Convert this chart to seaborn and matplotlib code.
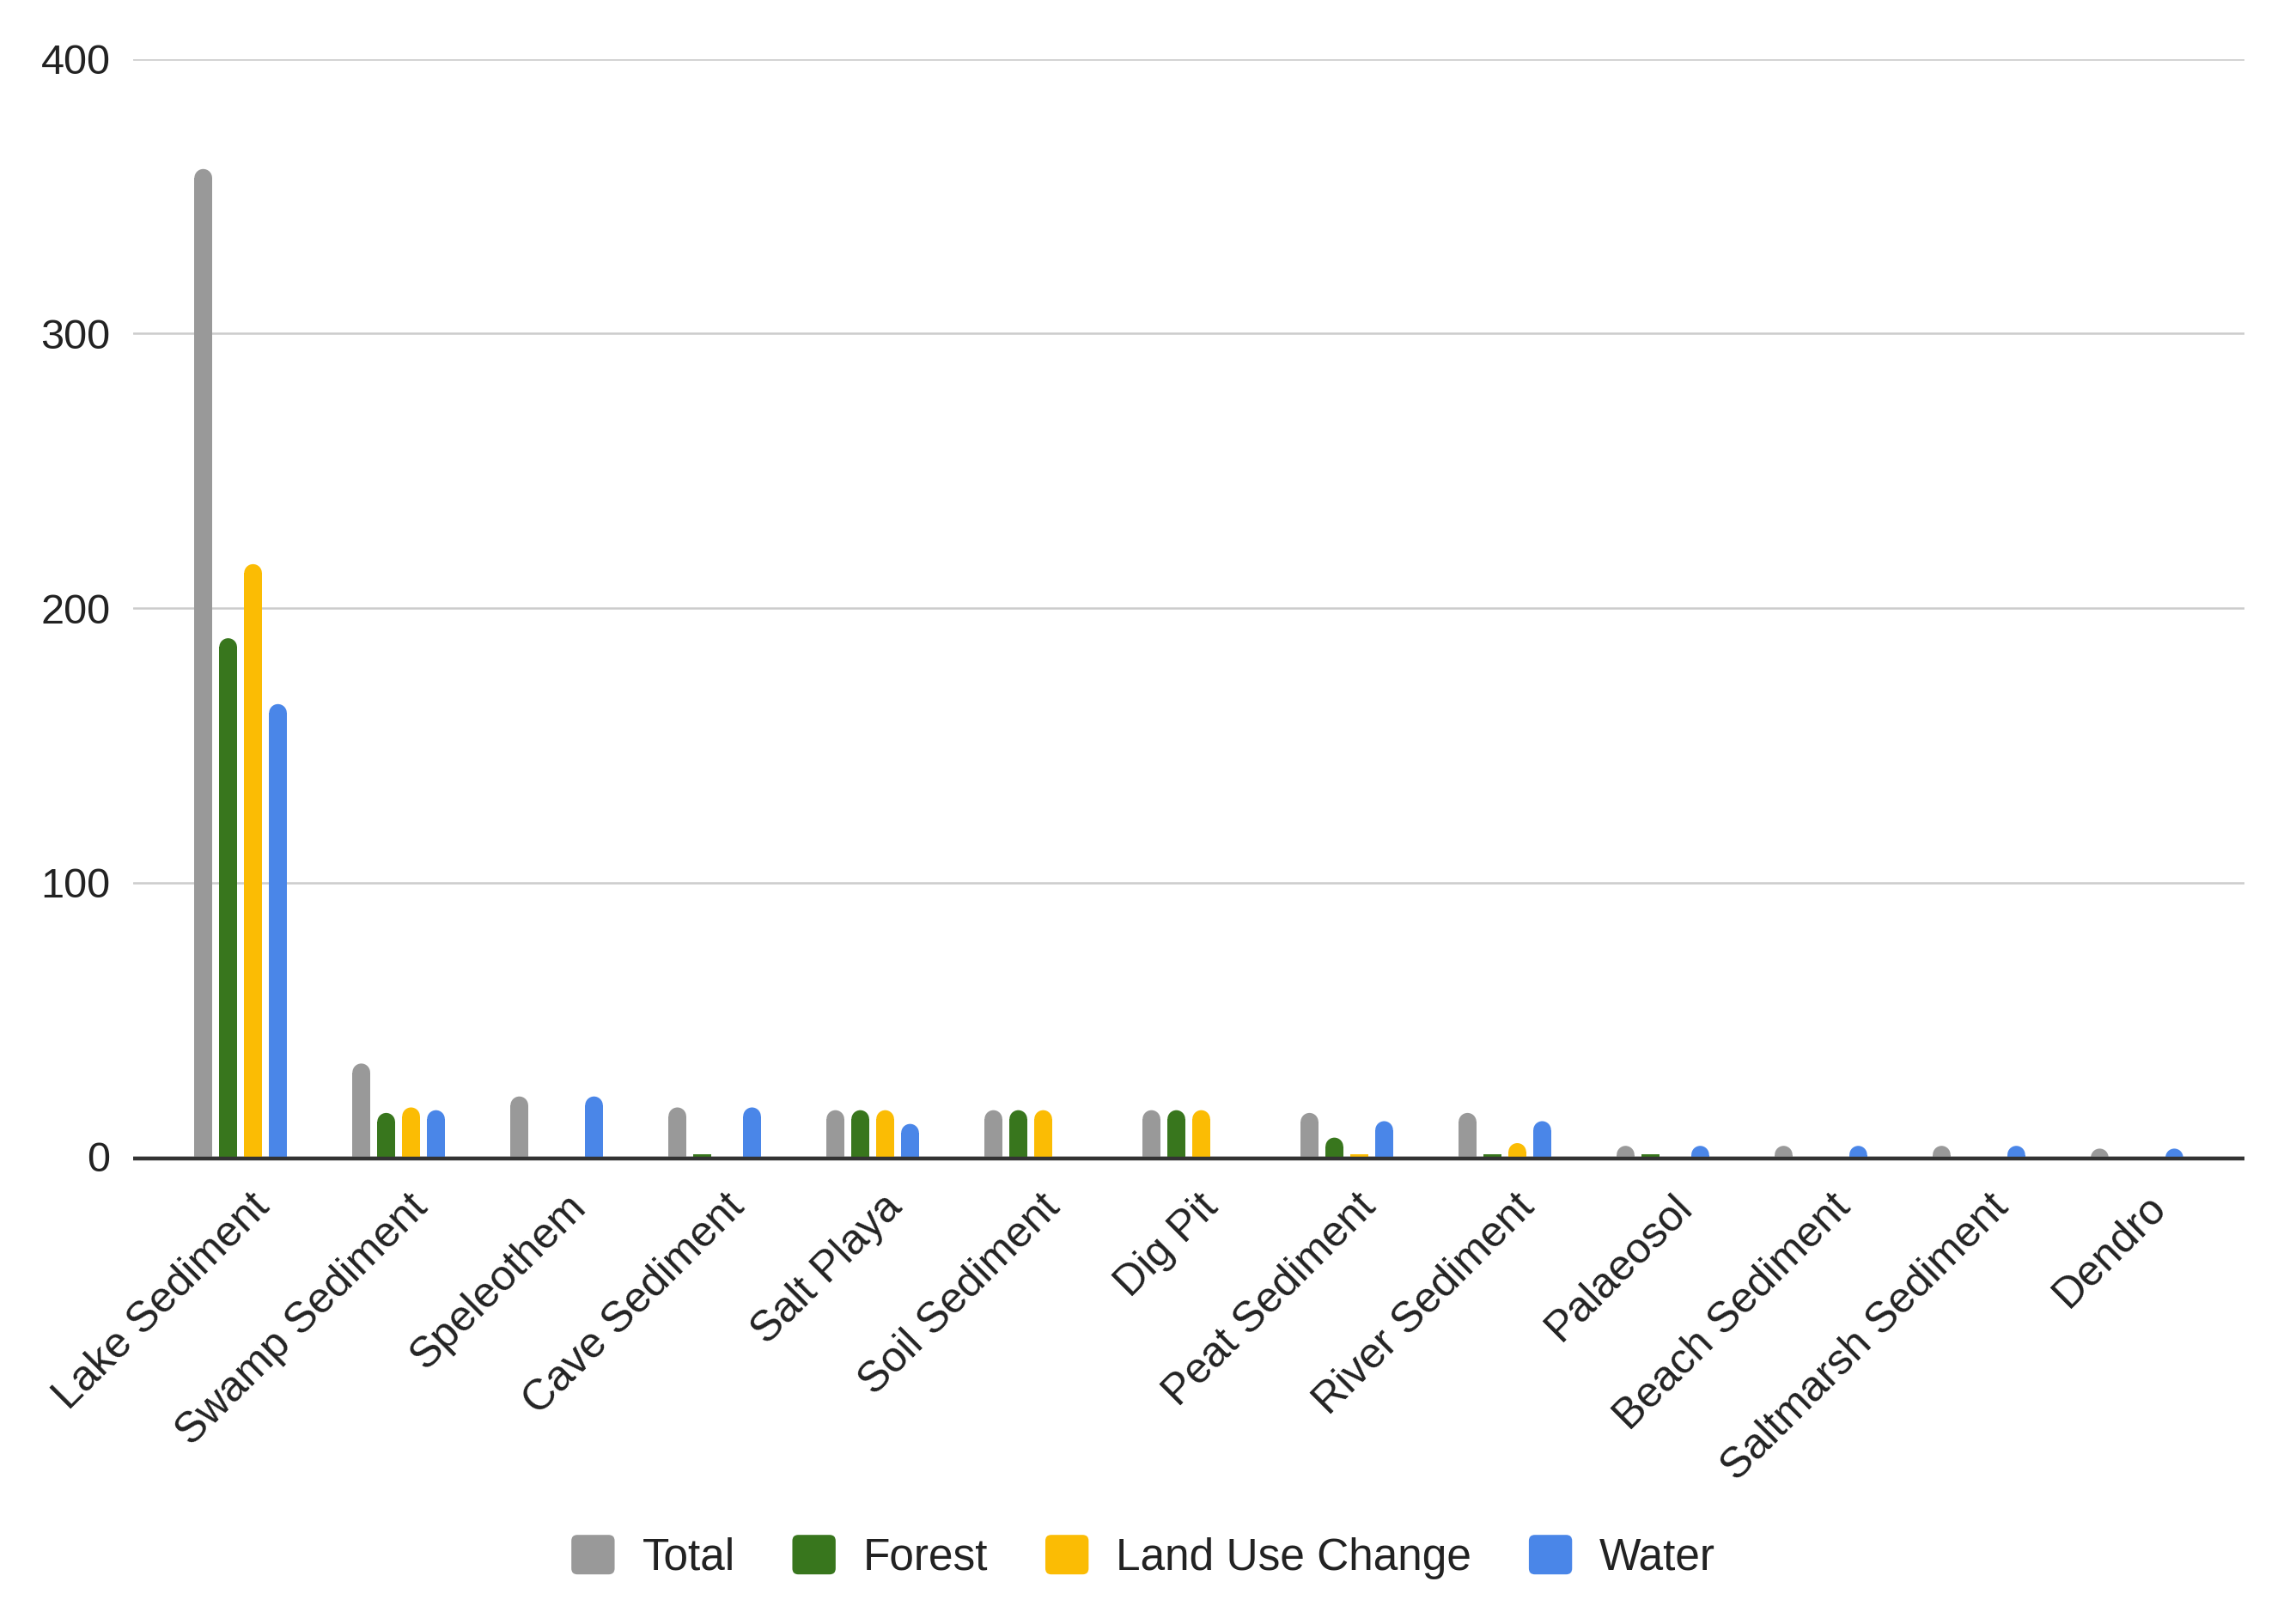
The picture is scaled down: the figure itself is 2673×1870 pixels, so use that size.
import matplotlib
matplotlib.use("Agg")
import pandas as pd
import matplotlib.pyplot as plt
import seaborn as sns
from matplotlib.patches import Patch, Ellipse, FancyBboxPatch
from matplotlib.legend_handler import HandlerPatch
from matplotlib.transforms import ScaledTranslation

# data
categories = ["Lake Sediment", "Swamp Sediment", "Speleothem", "Cave Sediment",
              "Salt Playa", "Soil Sediment", "Dig Pit", "Peat Sediment",
              "River Sediment", "Palaeosol", "Beach Sediment",
              "Saltmarsh Sediment", "Dendro"]
series = ["Total", "Forest", "Land Use Change", "Water"]
total = [360, 34, 22, 18, 17, 17, 17, 16, 16, 4, 4, 4, 3]
forest = [189, 16, 0, 1, 17, 17, 17, 7, 1, 1, 0, 0, 0]
land_use = [216, 18, 0, 0, 17, 17, 17, 1, 5, 0, 0, 0, 0]
water = [165, 17, 22, 18, 12, 0, 0, 13, 13, 4, 4, 4, 3]
colors = ["#999999", "#38761d", "#fbbc04", "#4a86e8"]
y_ticks = [0, 100, 200, 300, 400]

df = pd.DataFrame({
    "Proxy": categories * 4,
    "Series": [s for s in series for _ in categories],
    "Count": total + forest + land_use + water,
})

sns.set_theme(style="white")
plt.rcParams["font.family"] = ["Liberation Sans", "DejaVu Sans"]

W, H = 2673, 1870
fig, ax = plt.subplots(figsize=(W / 100, H / 100), dpi=100)
fig.subplots_adjust(left=155 / W, right=2613 / W, top=1 - 69 / H, bottom=1 - 1347 / H)

sns.barplot(data=df, x="Proxy", y="Count", hue="Series", hue_order=series,
            palette=colors, width=0.63, gap=0.29, saturation=1, linewidth=0,
            legend=False, ax=ax, zorder=2)

ax.set_xlim(-0.68, 12.68)
ax.set_ylim(0, 400)
ax.set_yticks(y_ticks)
ax.yaxis.grid(True, color="#cccccc", linewidth=1.8)
ax.set_axisbelow(True)
sns.despine(ax=ax, left=True, bottom=True)
# dark baseline drawn just below zero so small bars stay visible
base_shift = ScaledTranslation(0, -0.022, fig.dpi_scale_trans)
ax.plot([0, 1], [0, 0], color="#333333", linewidth=3.2, zorder=3,
        transform=ax.transAxes + base_shift, clip_on=False, solid_capstyle="butt")
ax.set_xlabel("")
ax.set_ylabel("")

ax.tick_params(axis="y", length=0, pad=19, labelsize=35, labelcolor="#222222")
ax.tick_params(axis="x", length=0, pad=37, labelsize=36, labelcolor="#222222")
ax.set_xticks(range(len(categories)))
ax.set_xticklabels(categories, rotation=45, ha="right", va="center",
                   rotation_mode="anchor")
offset = ScaledTranslation(0.27, 0, fig.dpi_scale_trans)
for lab in ax.get_xticklabels():
    lab.set_transform(lab.get_transform() + offset)

# rounded bar tops like the original
sx = ax.transData.transform((1, 0))[0] - ax.transData.transform((0, 0))[0]
sy = ax.transData.transform((0, 1))[1] - ax.transData.transform((0, 0))[1]
for bar in list(ax.patches):
    h = bar.get_height()
    if h < 3:
        continue
    w = bar.get_width()
    ry = (w * sx / 2) / sy
    bar.set_height(h - ry)
    ax.add_patch(Ellipse((bar.get_x() + w / 2, h - ry), w, 2 * ry,
                         facecolor=bar.get_facecolor(), edgecolor="none", zorder=2))


def rounded_box(legend, orig_handle, xdescent, ydescent, width, height, fontsize):
    return FancyBboxPatch((-xdescent, -ydescent), width, height,
                          boxstyle=f"round,pad=0,rounding_size={height * 0.15}")


handles = [Patch(facecolor=c, edgecolor="none", label=s) for s, c in zip(series, colors)]
fig.legend(handles=handles, loc="center", bbox_to_anchor=(0.498, 1 - 1813 / H),
           ncol=4, frameon=False, fontsize=37, handlelength=0.98,
           handleheight=1.0, handletextpad=0.62, columnspacing=1.3,
           labelcolor="#222222",
           handler_map={Patch: HandlerPatch(patch_func=rounded_box)})

fig.savefig("out.png", dpi=100)
